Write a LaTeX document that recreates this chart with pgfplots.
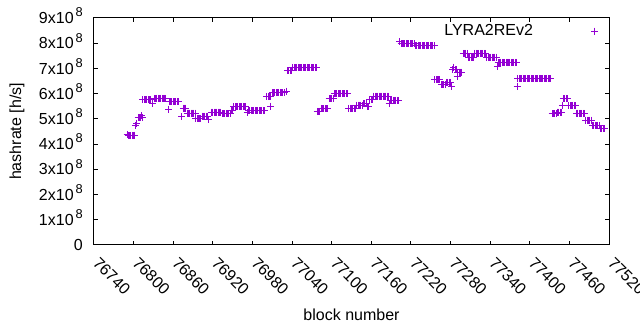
\documentclass[border=0pt]{standalone}
\usepackage{fontspec}
\setmainfont{Liberation Sans}
\usepackage{pgfplots}
\pgfplotsset{compat=1.18}
\definecolor{gpviolet}{RGB}{148,0,211}
\newcommand{\sci}[1]{#1x10\hspace{2bp}\raisebox{0.42em}{\fontsize{12.8bp}{12.8bp}\selectfont 8}}
\begin{document}
\begin{tikzpicture}[font=\fontsize{16bp}{19bp}\selectfont]
\begin{axis}[
  name=ax, at={(0,0)}, anchor=south west,
  scale only axis, width=515bp, height=227bp,
  xmin=76740, xmax=77520, ymin=0, ymax=9,
  axis line style={line width=1bp, black},
  every tick/.style={black, line width=1bp},
  major tick length=4bp, tick align=inside,
  xtick={76740,76800,76860,76920,76980,77040,77100,77160,77220,77280,77340,77400,77460,77520},
  xticklabels={76740,76800,76860,76920,76980,77040,77100,77160,77220,77280,77340,77400,77460,77520},
  scaled x ticks=false, scaled y ticks=false,
  ytick={0,1,2,3,4,5,6,7,8,9},
  yticklabels={0\hspace{5bp},\sci1,\sci2,\sci3,\sci4,\sci5,\sci6,\sci7,\sci8,\sci9},
  yticklabel style={anchor=base east, inner sep=0pt, xshift=-11bp, yshift=-5.6bp},
  xticklabel style={anchor=north west, inner sep=0pt, xshift=6bp, yshift=-11bp, rotate=-45},
  xlabel={block number}, ylabel={hashrate [h/s]},
  xlabel style={at={(axis description cs:0.5,-0.3084)}, anchor=center},
  ylabel style={at={(axis description cs:-0.1495,0.5)}, anchor=center},
  legend plot pos=right,
  legend image code/.code={\path[draw=none] (0bp,0bp) -- (62bp,0bp); \draw[#1, only marks] plot coordinates {(62bp,0bp)};},
  legend style={draw=none, fill=none, at={(axis description cs:0.9796,0.9427)}, anchor=east, inner sep=0pt, outer sep=0pt, nodes={inner sep=0pt}},
]
\addplot[only marks, mark=+, mark size=3.5bp, color=gpviolet, line width=1bp] coordinates {
(76790,4.38)(76792,4.35)(76794,4.33)(76796,4.33)(76798,4.35)(76800,4.33)(76802,4.36)
(76803,4.73)(76805,4.82)
(76807,5.05)(76809,5.05)(76811,5.05)(76812,5.12)(76813,5.06)
(76814,5.75)(76816,5.75)(76818,5.75)(76820,5.75)(76822,5.75)(76824,5.75)(76826,5.75)
(76828,5.6)
(76831,5.81)(76833,5.81)(76835,5.81)(76837,5.81)(76839,5.81)(76841,5.81)(76843,5.81)(76845,5.81)(76847,5.81)(76849,5.81)
(76853,5.38)
(76854,5.67)(76856,5.67)(76858,5.67)(76860,5.67)(76862,5.67)(76864,5.67)(76866,5.67)(76868,5.67)
(76873,5.09)
(76875,5.43)(76877,5.43)(76879,5.43)
(76881,5.23)(76883,5.23)(76885,5.23)(76887,5.23)(76889,5.23)(76891,5.23)(76893,5.23)
(76894,5.0)(76896,5.0)(76898,5.0)(76900,5.0)(76902,5.0)
(76904,5.11)(76906,5.11)(76908,5.11)(76910,5.11)(76912,5.11)
(76914,4.96)
(76918,5.27)(76920,5.27)(76922,5.27)(76924,5.27)(76926,5.27)(76928,5.27)(76930,5.27)(76932,5.27)
(76934,5.21)(76936,5.21)(76938,5.21)(76940,5.21)(76942,5.21)(76944,5.21)(76946,5.21)
(76948,5.35)(76950,5.35)
(76952,5.48)(76954,5.48)(76956,5.48)(76958,5.48)(76960,5.48)(76962,5.48)(76964,5.48)(76966,5.48)(76968,5.48)(76970,5.48)
(76972,5.25)
(76974,5.33)(76976,5.33)(76978,5.33)(76980,5.33)(76982,5.33)(76984,5.33)(76986,5.33)(76988,5.33)(76990,5.33)(76992,5.33)(76994,5.33)(76996,5.33)(76998,5.33)
(77002,5.88)(77004,5.88)(77006,5.88)(77008,5.88)(77007,5.51)
(77010,6.03)(77012,6.03)(77014,6.03)(77016,6.03)(77018,6.03)(77020,6.03)(77022,6.03)(77024,6.03)(77026,6.03)(77028,6.03)
(77031,6.1)
(77033,6.9)(77035,6.9)(77037,6.9)(77039,6.9)
(77041,7.03)(77043,7.03)(77045,7.03)(77047,7.03)(77049,7.03)(77051,7.03)(77053,7.03)(77055,7.03)(77057,7.03)(77059,7.03)
(77061,7.03)(77063,7.03)(77065,7.03)(77067,7.03)(77069,7.03)(77071,7.03)(77073,7.03)(77075,7.03)(77077,7.03)
(77078,5.3)(77080,5.3)(77082,5.3)
(77084,5.4)(77086,5.4)(77088,5.4)(77090,5.4)(77092,5.4)(77094,5.4)
(77096,5.8)(77098,5.8)(77100,5.8)(77102,5.8)
(77104,6.0)(77106,6.0)(77108,6.0)(77110,6.0)(77112,6.0)(77114,6.0)(77116,6.0)(77118,6.0)(77120,6.0)(77122,6.0)(77124,6.0)
(77126,5.42)(77128,5.42)(77130,5.42)(77132,5.42)(77134,5.42)(77136,5.42)
(77138,5.55)(77140,5.55)(77142,5.55)(77144,5.55)(77146,5.55)
(77148,5.6)(77150,5.6)(77152,5.6)(77154,5.48)(77156,5.48)
(77158,5.75)(77160,5.75)(77162,5.75)
(77164,5.9)(77166,5.9)(77168,5.9)(77170,5.9)(77172,5.9)(77174,5.9)(77176,5.9)(77178,5.9)(77180,5.9)(77182,5.9)(77184,5.9)(77186,5.9)
(77187,5.6)
(77189,5.73)(77191,5.73)(77193,5.73)(77195,5.73)(77197,5.73)(77199,5.73)(77201,5.73)
(77203,8.05)
(77205,7.97)(77207,7.97)(77209,7.97)(77211,7.97)(77213,7.97)(77215,7.97)(77217,7.97)(77219,7.97)(77221,7.97)(77223,7.97)(77225,7.97)
(77227,7.9)(77229,7.9)(77231,7.9)(77233,7.9)(77235,7.9)(77237,7.9)(77239,7.9)(77241,7.9)(77243,7.9)(77245,7.9)(77247,7.9)(77249,7.9)(77251,7.9)(77253,7.9)(77255,7.9)
(77256,6.56)(77258,6.56)(77260,6.56)(77262,6.56)(77264,6.56)
(77266,6.35)(77268,6.35)(77270,6.35)(77272,6.35)
(77274,6.45)(77276,6.45)(77278,6.45)(77280,6.45)
(77282,6.28)
(77283,6.95)(77285,7.05)(77287,6.95)(77289,6.95)
(77290,6.67)
(77291,6.85)(77293,6.85)(77295,6.85)(77297,6.85)
(77299,7.6)(77301,7.6)(77303,7.6)(77305,7.6)
(77307,7.45)(77309,7.45)(77311,7.45)(77313,7.45)(77315,7.45)
(77317,7.6)(77319,7.6)(77321,7.6)(77323,7.6)(77325,7.6)(77327,7.6)(77329,7.6)(77331,7.6)(77333,7.6)
(77335,7.45)(77337,7.45)(77339,7.45)(77341,7.45)(77343,7.45)(77345,7.45)(77347,7.45)(77349,7.45)
(77351,7.08)
(77352,7.24)(77354,7.24)(77356,7.24)(77358,7.24)(77360,7.24)(77362,7.24)(77364,7.24)(77366,7.24)(77368,7.24)(77370,7.24)(77372,7.24)(77374,7.24)(77376,7.24)(77378,7.24)(77380,7.24)
(77381,6.3)
(77382,6.6)(77384,6.6)(77386,6.6)(77388,6.6)(77390,6.6)(77392,6.6)(77394,6.6)(77396,6.6)(77398,6.6)(77400,6.6)(77402,6.6)(77404,6.6)(77406,6.6)
(77408,6.6)(77410,6.6)(77412,6.6)(77414,6.6)(77416,6.6)(77418,6.6)(77420,6.6)(77422,6.6)(77424,6.6)(77426,6.6)(77428,6.6)(77430,6.6)(77432,6.6)
(77434,5.2)(77436,5.2)(77438,5.2)(77440,5.2)
(77442,5.27)(77444,5.27)(77446,5.27)(77448,5.27)
(77450,5.55)
(77451,5.8)(77453,5.8)(77455,5.8)(77457,5.8)
(77459,5.52)(77461,5.52)(77463,5.52)(77465,5.52)(77467,5.52)(77469,5.52)
(77471,5.22)(77473,5.22)(77475,5.22)(77477,5.22)(77479,5.22)(77481,5.22)(77483,5.22)
(77485,4.95)(77487,4.95)(77489,4.95)(77491,4.95)(77493,4.95)
(77495,4.72)(77497,4.72)(77499,4.72)(77501,4.72)(77503,4.72)(77505,4.72)
(77507,4.6)(77509,4.6)(77511,4.6)(77513,4.6)
};
\addlegendentry{LYRA2REv2}
\end{axis}
\pgfresetboundingbox
\path[use as bounding box] ([shift={(-94bp,-85bp)}]ax.south west) rectangle ([shift={(31bp,18bp)}]ax.north east);
\end{tikzpicture}
\end{document}
